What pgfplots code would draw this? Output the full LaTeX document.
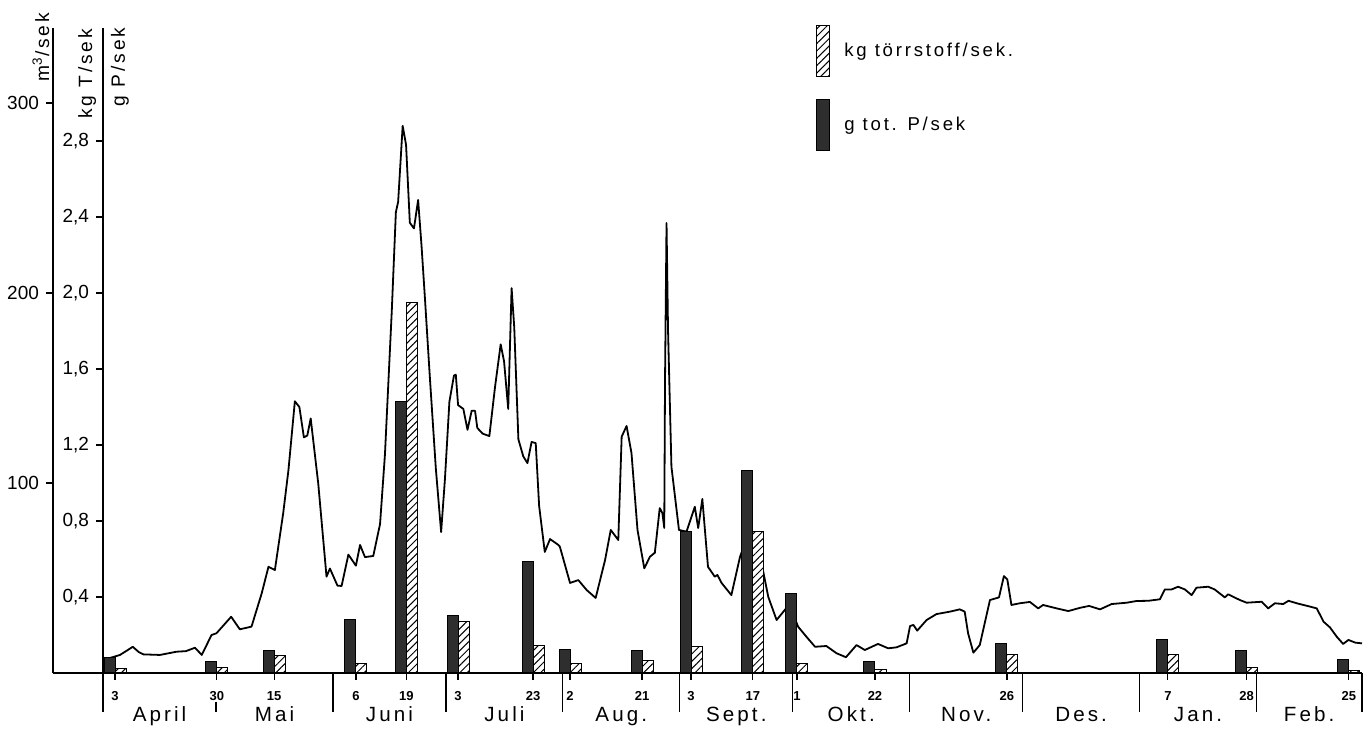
\documentclass[border=0pt]{standalone}
\usepackage{fontspec}
\setmainfont{Liberation Sans}
\newfontfamily\spaced{Liberation Sans}[LetterSpace=15]
\usepackage{pgfplots}
\pgfplotsset{compat=1.18}
\usepackage{pgfplotstable}
\usetikzlibrary{patterns.meta}

% days counted from 1 April; discharge in m3/sek
\pgfplotstableread{
day q
0 7
2 8
4.5 9.5
6.5 12
7.9 13.8
9.5 11
10.7 9.8
15.1 9.5
19.5 11.2
22 11.5
24.4 13.3
26.2 9.5
28.8 20
30.1 20.9
34 29.6
36.3 23
39.4 24.4
42.1 41.9
43.9 55.9
45.6 54.2
47.8 84
49.2 106.8
50.9 143
52.1 140
53.3 124
54.2 125
55.1 134
57.1 99.8
59.3 50.7
60.2 55
62.2 46
63.3 45.8
65.1 62.3
67.1 56.5
68.2 67.4
69.5 61
71.7 61.6
73.5 78.4
74.8 115
76.6 190
77.7 242.6
78.3 248
79.5 288
80.4 278
81.4 237
82.5 234
83.6 249
84.5 225
85.4 197.5
86.7 156
88.3 107.6
89.7 74.2
90.7 101.6
91.9 142.8
93.1 156.5
93.6 157
94.2 141
95.6 139
96.7 128
97.8 138
98.7 138
99.3 129
100.7 126
102.5 124.7
104 150.5
105.5 173
106.4 164
107.5 139
108.4 202.6
109.1 182
110.2 123
111.5 114
112.6 110.5
113.7 121.6
114.8 121
115.7 88
117.2 63.7
118.6 70.5
120.8 67.4
121.2 66.5
123.9 47.4
126.1 48.9
128.3 43.7
130.7 39.5
133.2 59.5
134.7 75.3
136.7 70
137.6 124.4
138.9 130
140.2 115.8
141.8 75.3
143.6 55.1
145.1 61.2
146.4 63.3
147.7 86.8
148.4 84.2
148.9 76.3
149.1 154
149.5 236.8
149.9 180.5
150.8 108.6
152.8 75.3
154.8 74.4
157 87.5
157.9 76.3
159 91.6
160.5 55.9
162.3 50.7
163 51.6
164.1 47.4
166.7 41
169 61.2
171 72
173 68
174.7 57.9
176.5 40
178.7 27.9
181.3 34.2
182.7 33
184.4 24.4
186.6 19.1
188.9 13.8
191.9 14.2
194.6 10.4
197.1 8.3
199.9 14.7
202.1 12.1
205.6 15.3
208.3 13
210.5 13.5
213.2 15.6
214.1 24.7
215 25.3
216 22.3
218.5 27.9
221.1 31
224.7 32.3
227.3 33.5
228.6 32.3
229.5 20.9
230.9 10.7
232.6 14.7
235.3 38.4
237.7 39.8
239 51
239.9 49.3
241 35.8
243.2 36.7
245.9 37.4
248.1 34
249.4 35.8
253 34
256.1 32.6
259.2 34.3
261.6 35.3
264.5 33.5
267.6 36.3
271.6 37
274.2 37.9
277.3 38
280.4 38.8
281.7 44
283.5 44
285.2 45.4
287 44
288.8 41
290.1 44.9
293.2 45.4
294.9 44
297.6 39.8
298.5 41.4
301.6 38.4
303.4 37
307.4 37.5
309.1 34
310.9 36.7
313.1 36.3
314.5 38
316.7 36.7
320.3 34.9
322 34
323.8 27
325.5 24
327.3 19.1
329 15.3
330.4 17.4
332.2 16
334 15.6
}\flow

% sampling days: P = g tot. P/sek, T = kg torrstoff/sek
\pgfplotstableread{
day P T
3.2 0.084 0.026
30.2 0.063 0.03
45.4 0.116 0.09
67.1 0.28 0.05
80.5 1.43 1.95
94.2 0.305 0.27
114.1 0.587 0.147
123.9 0.126 0.05
143 0.116 0.065
156 0.745 0.14
172.4 1.065 0.747
184.1 0.42 0.05
204.8 0.06 0.02
239.8 0.153 0.096
282.5 0.175 0.097
303.4 0.116 0.03
330.5 0.072 0.014
}\samples

\begin{document}
\begin{tikzpicture}
\begin{axis}[
  scale only axis, width=654.5pt, height=322.5pt,
  xmin=-13.26, xmax=334, ymin=0, ymax=339.5,
  axis x line*=bottom, axis y line*=left,
  axis line style={line width=0.7pt, -},
  tick align=outside, major tick length=3.5pt,
  tick style={black, line width=0.6pt},
  ytick={100,200,300}, yticklabels={100,200,300},
  yticklabel style={font=\fontsize{9.5}{10}\selectfont},
  xtick={3.2,30.2,45.4,67.1,80.5,94.2,114.1,123.9,143,156,172.4,184.1,204.8,239.8,282.5,303.4,330.5},
  xticklabels={3,30,15,6,19,3,23,2,21,3,17,1,22,26,7,28,25},
  xticklabel style={font=\bfseries\fontsize{6.5}{7}\selectfont, yshift=-2pt},
  extra x ticks={0,61,91,122,153,183,214,244,275,306,334},
  extra x tick labels={},
  extra x tick style={major tick length=19.5pt},
  clip=false,
]
\addplot[black, line width=0.9pt, line join=round, mark=none] table[x=day,y=q]{\flow};

\draw[line width=0.6pt] (axis cs:30,0) ++(0pt,-14.5pt) -- ++(0pt,-5pt);

\begin{scope}[font=\spaced\fontsize{10.3}{11}\selectfont]
\node[anchor=base, yshift=-24.5pt] at (axis cs:15,0) {April};
\node[anchor=base, yshift=-24.5pt] at (axis cs:45.5,0) {Mai};
\node[anchor=base, yshift=-24.5pt] at (axis cs:76,0) {Juni};
\node[anchor=base, yshift=-24.5pt] at (axis cs:106.5,0) {Juli};
\node[anchor=base, yshift=-24.5pt] at (axis cs:137.5,0) {Aug.};
\node[anchor=base, yshift=-24.5pt] at (axis cs:168,0) {Sept.};
\node[anchor=base, yshift=-24.5pt] at (axis cs:198.5,0) {Okt.};
\node[anchor=base, yshift=-24.5pt] at (axis cs:229,0) {Nov.};
\node[anchor=base, yshift=-24.5pt] at (axis cs:259.5,0) {Des.};
\node[anchor=base, yshift=-24.5pt] at (axis cs:290.5,0) {Jan.};
\node[anchor=base, yshift=-24.5pt] at (axis cs:320,0) {Feb.};
\end{scope}

\begin{scope}[font=\spaced\fontsize{9.6}{10}\selectfont]
\node[rotate=90] at (rel axis cs:-0.0092,0.9705) {m\textsuperscript{3}/sek};
\node[rotate=90] at (rel axis cs:0.026,0.9287) {kg T/sek};
\node[rotate=90] at (rel axis cs:0.0512,0.9395) {g P/sek};
\end{scope}

\coordinate (BL) at (rel axis cs:-0.0405,-0.0853);
\coordinate (TR) at (rel axis cs:1.0023,1.0434);
\end{axis}

\begin{axis}[
  at={(25pt,0pt)},
  scale only axis, width=629.5pt, height=322.5pt,
  xmin=0, xmax=334, ymin=0, ymax=3.395,
  hide x axis, axis y line*=left,
  axis line style={line width=0.7pt, -},
  tick align=outside, major tick length=3.5pt,
  tick style={black, line width=0.6pt},
  ytick={0.4,0.8,1.2,1.6,2.0,2.4,2.8},
  yticklabels={{0,4},{0,8},{1,2},{1,6},{2,0},{2,4},{2,8}},
  yticklabel style={font=\fontsize{9.5}{10}\selectfont},
  legend style={at={(0.5663,1.0047)}, anchor=north west, draw=none, fill=none,
    inner sep=0pt, row sep=11pt, font=\spaced\fontsize{9.3}{10}\selectfont,
    nodes={inner xsep=7pt}},
  legend cell align=left,
  legend image code/.code={\draw[#1] (0pt,-12.75pt) rectangle (6.5pt,12.75pt);},
  clip=false,
]
\addlegendimage{draw=black, line width=0.5pt, pattern={Lines[angle=45,distance=2.6pt,line width=0.5pt]}}
\addlegendentry{kg törrstoff/sek.}
\addlegendimage{draw=black, line width=0.5pt, fill=black!82}
\addlegendentry{g tot. P/sek}

\addplot[ybar, bar width=2.92, bar shift=1.46, draw=black, line width=0.5pt,
  preaction={fill=white}, pattern={Lines[angle=45,distance=2.6pt,line width=0.5pt]},
  forget plot] table[x=day,y=T]{\samples};
\addplot[ybar, bar width=2.92, bar shift=-1.46, draw=black, line width=0.5pt,
  fill=black!82, forget plot] table[x=day,y=P]{\samples};
\end{axis}

\pgfresetboundingbox
\path[use as bounding box] (BL) rectangle (TR);
\end{tikzpicture}
\end{document}
